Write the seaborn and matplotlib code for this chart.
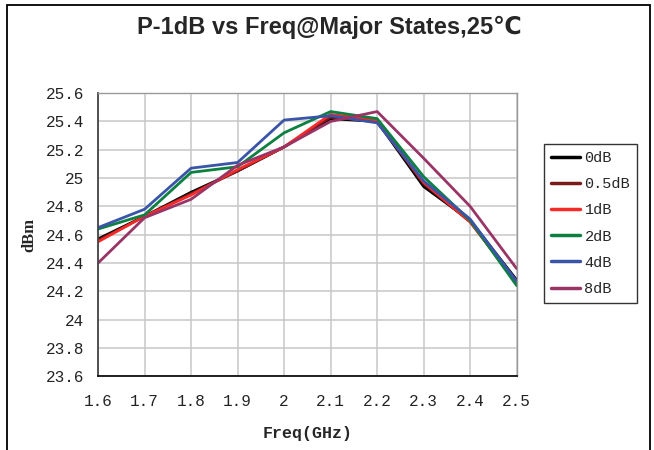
import matplotlib
matplotlib.use("Agg")
import matplotlib.pyplot as plt
import seaborn as sns
import pandas as pd
from matplotlib.patches import Rectangle

freq = [1.6, 1.7, 1.8, 1.9, 2.0, 2.1, 2.2, 2.3, 2.4, 2.5]
states = ["0dB", "0.5dB", "1dB", "2dB", "4dB", "8dB"]
p_0db = [24.57, 24.73, 24.90, 25.05, 25.22, 25.42, 25.40, 24.94, 24.70, 24.28]
p_05db = [24.56, 24.73, 24.89, 25.05, 25.22, 25.43, 25.40, 24.96, 24.69, 24.27]
p_1db = [24.55, 24.73, 24.88, 25.06, 25.22, 25.45, 25.41, 24.97, 24.69, 24.26]
p_2db = [24.64, 24.74, 25.04, 25.08, 25.32, 25.47, 25.42, 25.01, 24.70, 24.24]
p_4db = [24.65, 24.78, 25.07, 25.11, 25.41, 25.44, 25.39, 24.98, 24.71, 24.27]
p_8db = [24.40, 24.72, 24.85, 25.09, 25.22, 25.40, 25.47, 25.14, 24.80, 24.36]
yticks = [23.6, 23.8, 24.0, 24.2, 24.4, 24.6, 24.8, 25.0, 25.2, 25.4, 25.6]
ytick_labels = ["23.6", "23.8", "24", "24.2", "24.4", "24.6", "24.8", "25", "25.2", "25.4", "25.6"]
xtick_labels = ["1.6", "1.7", "1.8", "1.9", "2", "2.1", "2.2", "2.3", "2.4", "2.5"]

series = [p_0db, p_05db, p_1db, p_2db, p_4db, p_8db]
rows = []
for s, vals in zip(states, series):
    for f, v in zip(freq, vals):
        rows.append({"Freq": f, "P1dB": v, "State": s})
df = pd.DataFrame(rows)

palette = {"0dB": "#000000", "0.5dB": "#7a1a1c", "1dB": "#f52a2a",
           "2dB": "#0c8040", "4dB": "#3a55a8", "8dB": "#983566"}

sns.set_style("white")
plt.rcParams["font.family"] = ["Liberation Mono", "DejaVu Sans"]

fig = plt.figure(figsize=(6.54, 4.50), dpi=100)
ax = fig.add_axes([0.150, 0.164, 0.640, 0.629])

sns.lineplot(data=df, x="Freq", y="P1dB", hue="State", hue_order=states,
             palette=palette, linewidth=2.0, ax=ax, legend=False, sort=False)

ax.set_xlim(1.6, 2.5)
ax.set_ylim(23.6, 25.6)
ax.set_xticks(freq)
ax.set_xticklabels(xtick_labels)
ax.set_yticks(yticks)
ax.set_yticklabels(ytick_labels)
ax.grid(True, color="#c8c8c8", linewidth=1.1)
ax.set_axisbelow(True)
ax.tick_params(axis="both", direction="in", length=5, width=1.2, color="#444444",
               labelsize=11.5, labelcolor="#222222")
ax.tick_params(axis="x", pad=13)
ax.tick_params(axis="y", pad=10)
for side in ["top", "right"]:
    ax.spines[side].set_color("#999999")
    ax.spines[side].set_linewidth(1.0)
ax.spines["left"].set_color("#444444")
ax.spines["left"].set_linewidth(1.3)
ax.spines["bottom"].set_color("#111111")
ax.spines["bottom"].set_linewidth(1.3)

ax.set_xlabel("Freq(GHz)", fontsize=12, fontweight="bold", labelpad=12)
ax.set_ylabel("dBm", fontsize=12, fontweight="bold", family=["Liberation Serif", "DejaVu Serif"])
ax.yaxis.set_label_coords(-0.145, 0.5)

fig.text(0.503, 0.94, "P-1dB vs Freq@Major States,25\u2103", ha="center", va="center",
         fontsize=17, fontweight="bold", family=["Liberation Sans", "DejaVu Sans"])

handles = [plt.Line2D([0], [0], color=palette[s], linewidth=2.5) for s in states]
leg = fig.legend(handles, states, loc="upper left",
                 bbox_to_anchor=(544 / 654, 1 - 144 / 450), frameon=True,
                 fancybox=False, shadow=False, fontsize=11, handlelength=1.9,
                 handletextpad=0.3, labelspacing=0.8, borderpad=0.45,
                 borderaxespad=0.0)
leg.get_frame().set_edgecolor("#000000")
leg.get_frame().set_linewidth(1.0)

fig.patches.append(Rectangle((7 / 654, -0.02), 643 / 654, 1.02 - 5 / 450,
                             transform=fig.transFigure, fill=False,
                             edgecolor="#000000", linewidth=1.3))

fig.savefig("out.png", dpi=100)
